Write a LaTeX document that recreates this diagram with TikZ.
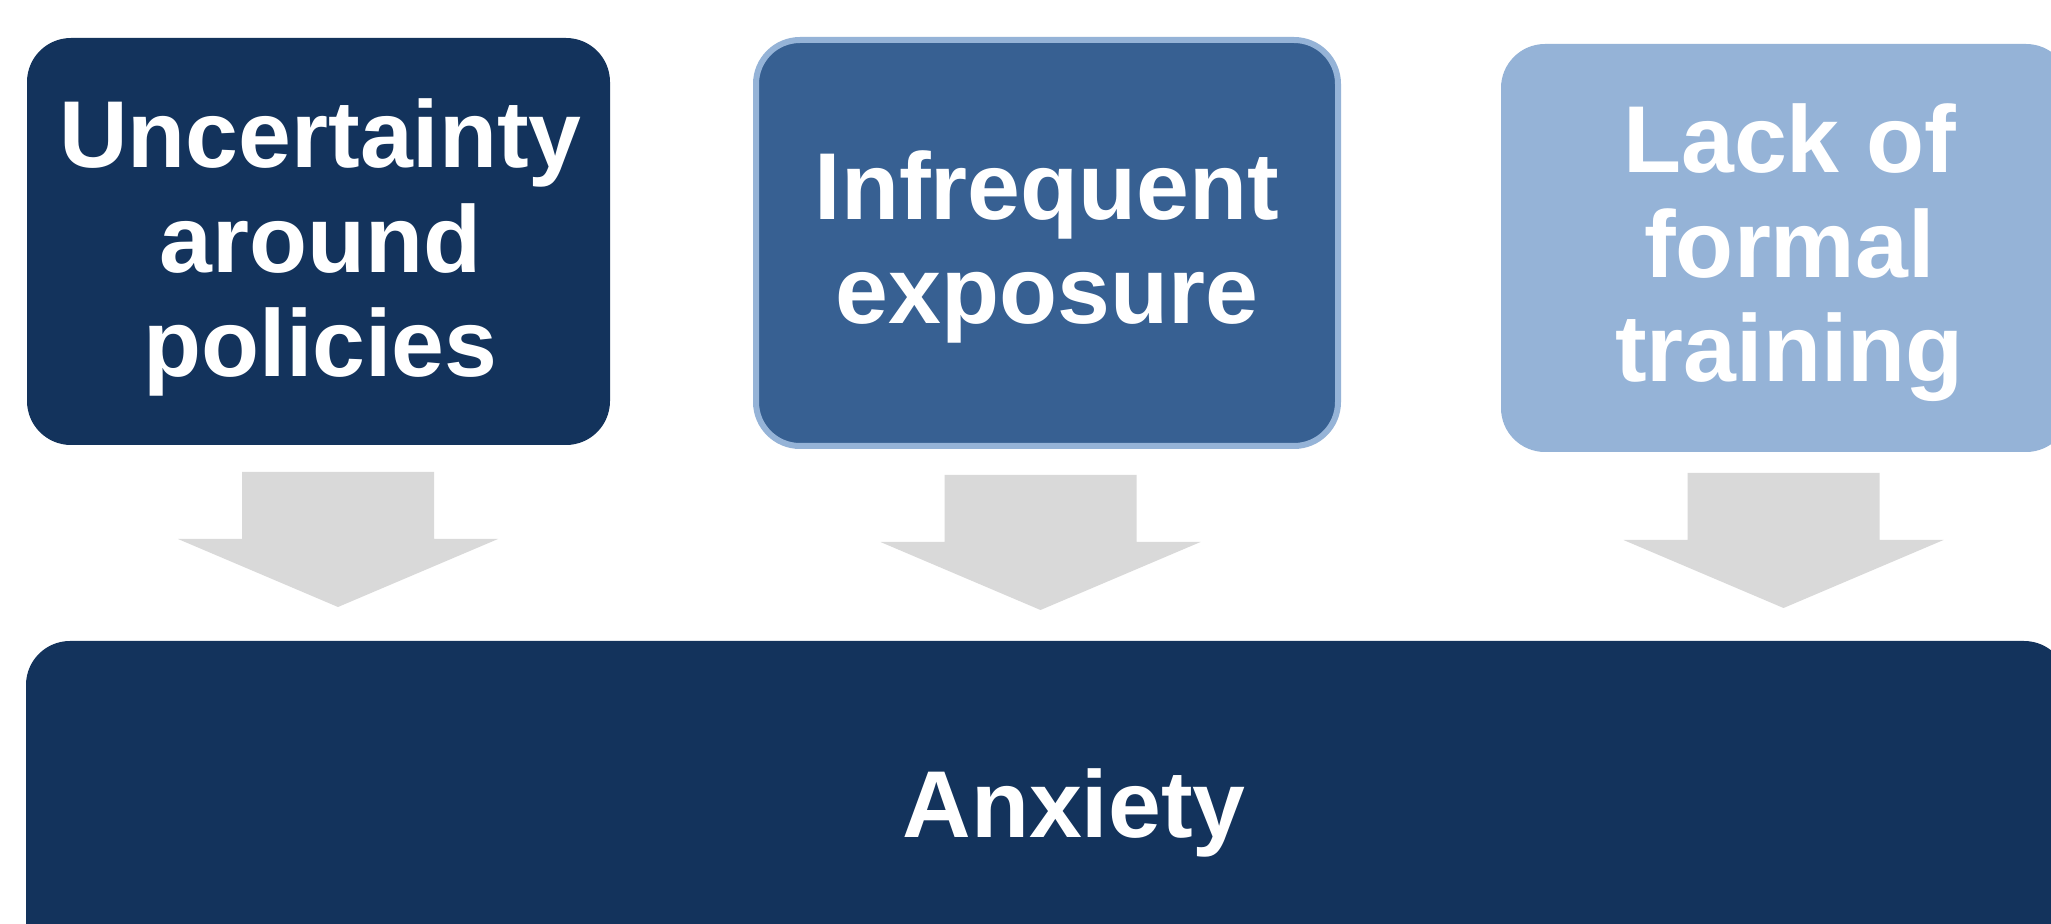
\documentclass[tikz,border=0pt]{standalone}
\usepackage{fontspec}
\setmainfont{Liberation Sans}
\definecolor{navy}{HTML}{13335C}
\definecolor{midblue}{HTML}{376092}
\definecolor{lightblue}{HTML}{95B3D7}
\definecolor{arrowgray}{HTML}{D9D9D9}
\tikzset{
  box/.style={rounded corners=22pt, inner sep=0pt},
  label text/.style={inner sep=0pt, text=white, align=center,
    font=\fontsize{47.5}{52.3}\selectfont\bfseries},
  blockarrow/.style={fill=arrowgray, draw=none},
}
\begin{document}
\begin{tikzpicture}[x=0.5pt,y=-0.5pt]
\clip (0,0) rectangle (2051,924);
\fill[white] (0,0) rectangle (2051,924);
% top boxes
\node[box, fill=navy, minimum width=291.5pt, minimum height=203.5pt] (b1) at (318.5,241.5) {};
\node[box, fill=midblue, draw=lightblue, line width=3pt, minimum width=291pt, minimum height=203pt] (b2) at (1047,243) {};
\node[box, fill=lightblue, minimum width=284.5pt, minimum height=204pt] (b3) at (1785.5,248) {};
\node[label text, yshift=-3pt, xshift=1pt] (t1) at (b1.center) {Uncertainty\\around\\policies};
\node[label text, yshift=-2pt] (t2) at (b2.center) {Infrequent\\exposure};
\node[label text, yshift=-2.5pt, xshift=2pt] (t3) at (b3.center) {Lack of\\formal\\training};
% bottom box
\node[box, fill=navy, minimum width=1021pt, minimum height=161.5pt] (anx) at (1047,802.5) {};
\node[label text, anchor=base] (anxt) at (1074,837) {Anxiety};
% block arrows
\coordinate (a1) at (338,472);
\coordinate (a2) at (1040.5,475);
\coordinate (a3) at (1783.5,473);
\foreach \a in {a1,a2,a3}{
  \fill[blockarrow] (\a) ++(-96,0) -- ++(192,0) -- ++(0,67) -- ++(64,0)
     -- ++(-160,68) -- ++(-160,-68) -- ++(64,0) -- cycle;
}
\end{tikzpicture}
\end{document}
